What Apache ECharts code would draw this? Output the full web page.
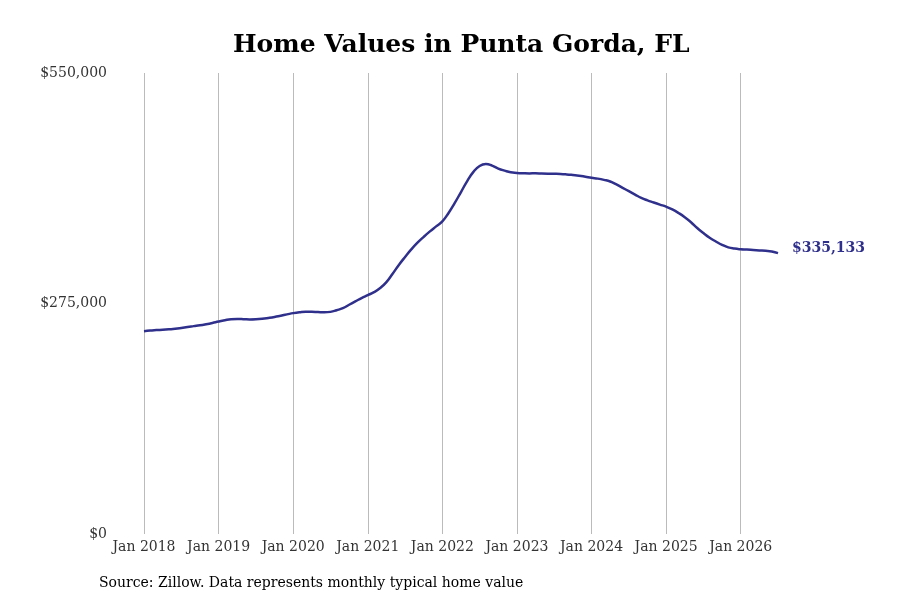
<!DOCTYPE html>
<html>
<head>
<meta charset="utf-8">
<script src="https://cdn.jsdelivr.net/npm/echarts@6/dist/echarts.min.js"></script>
<style>
  html, body { margin: 0; padding: 0; background: #fff; }
  #chart { width: 900px; height: 600px; }
</style>
</head>
<body>
<div id="chart"></div>
<script>
const serif = "'DejaVu Serif', serif";
const lineColor = '#2f2f8c';

// monthly, Jan 2018 .. Jul 2026
const years = [2018, 2019, 2020, 2021, 2022, 2023, 2024, 2025, 2026];
const monthNames = ['Jan', 'Feb', 'Mar', 'Apr', 'May', 'Jun', 'Jul', 'Aug', 'Sep', 'Oct', 'Nov', 'Dec'];

const values2018 = [242000, 242700, 243300, 243700, 244200, 244800, 245800, 247000, 248000, 249000, 250300, 251800];
const values2019 = [253500, 255000, 256200, 256500, 256300, 256000, 256200, 256800, 257800, 259000, 260500, 262000];
const values2020 = [263500, 264600, 265300, 265200, 264800, 264500, 265000, 267000, 269500, 273500, 277500, 281500];
const values2021 = [285000, 288500, 293500, 300500, 310500, 321000, 330500, 339500, 347500, 354500, 361000, 367000];
const values2022 = [373000, 383000, 395000, 408000, 421000, 432000, 439000, 441300, 439500, 436000, 433500, 431500];
const values2023 = [430800, 430400, 430200, 430300, 430000, 429800, 429700, 429500, 429000, 428300, 427500, 426300];
const values2024 = [425000, 424000, 422500, 420500, 417000, 413000, 409000, 405000, 401000, 398000, 395500, 393000];
const values2025 = [390500, 387200, 383000, 378000, 372000, 365000, 359000, 353500, 349000, 345000, 342000, 340500];
const values2026 = [339700, 339300, 338800, 338300, 337800, 337000, 335133];

const yTicks = [0, 275000, 550000];

const values = [].concat(values2018, values2019, values2020, values2021, values2022,
  values2023, values2024, values2025, values2026);
const months = values.map((v, i) => monthNames[i % 12] + ' ' + years[Math.floor(i / 12)]);

function money(v) {
  return '$' + Math.round(v).toLocaleString('en-US');
}

const chart = echarts.init(document.getElementById('chart'));

chart.setOption({
  animation: false,
  title: {
    text: 'Home Values in Punta Gorda, FL',
    left: 228,
    top: 28,
    textStyle: { fontFamily: serif, fontWeight: 'bold', fontSize: 25, color: '#000' }
  },
  grid: { left: 144, right: 122, top: 73, bottom: 66 },
  xAxis: {
    type: 'category',
    data: months,
    boundaryGap: false,
    axisLine: { show: false },
    axisTick: { show: false },
    axisLabel: {
      interval: 11,
      margin: 6,
      color: '#333',
      fontFamily: serif,
      fontSize: 14
    },
    splitLine: { show: true, interval: 11, lineStyle: { color: '#bbb', width: 1 } }
  },
  yAxis: {
    type: 'value',
    min: yTicks[0],
    max: yTicks[yTicks.length - 1],
    interval: yTicks[1] - yTicks[0],
    axisLine: { show: false },
    axisTick: { show: false },
    splitLine: { show: false },
    axisLabel: {
      margin: 37,
      color: '#333',
      fontFamily: serif,
      fontSize: 14,
      formatter: money
    }
  },
  series: [{
    type: 'line',
    data: values,
    smooth: true,
    symbol: 'none',
    lineStyle: { color: lineColor, width: 2.5 },
    endLabel: {
      show: true,
      distance: 14,
      offset: [0, -5],
      color: lineColor,
      fontFamily: serif,
      fontWeight: 'bold',
      fontSize: 14,
      formatter: p => money(p.value)
    }
  }],
  graphic: [{
    type: 'text',
    left: 99,
    top: 576,
    style: {
      text: 'Source: Zillow. Data represents monthly typical home value',
      fill: '#000',
      font: '14px ' + serif
    }
  }]
});
</script>
</body>
</html>
